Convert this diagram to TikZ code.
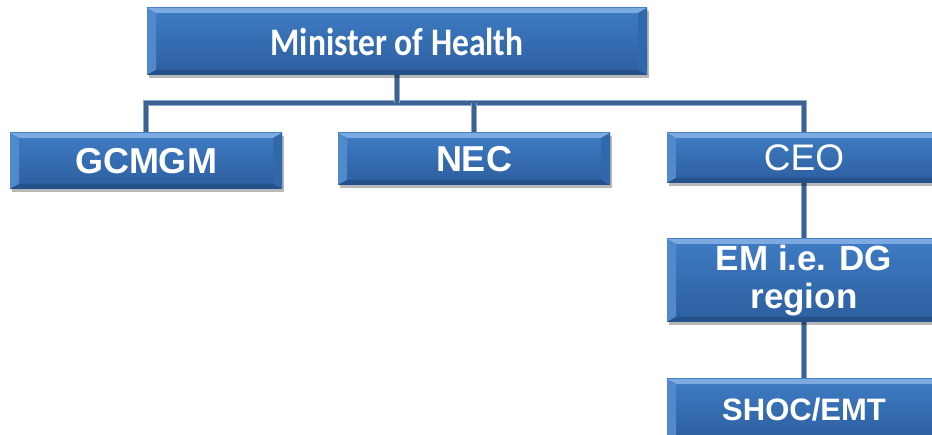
\documentclass[tikz,border=0pt]{standalone}
\usepackage{fontspec}
\setmainfont{Liberation Sans}
\newfontfamily\calibrifont[FakeStretch=0.86]{Carlito}
\usetikzlibrary{shadows,backgrounds}

\definecolor{boxtop}{HTML}{3F7CC5}
\definecolor{boxbot}{HTML}{2C5E9E}
\definecolor{bevhi}{HTML}{7DAAE0}
\definecolor{bevleft}{HTML}{5089CC}
\definecolor{bevright}{HTML}{3167AB}
\definecolor{bevlow}{HTML}{25518B}
\definecolor{linedark}{HTML}{3D6190}
\definecolor{lineedge}{HTML}{8BAAD2}

\tikzset{
  orgbox/.style={
    inner sep=0pt, outer sep=0pt, text=white, align=center,
    top color=boxtop, bottom color=boxbot,
    drop shadow={shadow xshift=2pt, shadow yshift=-3pt, opacity=0.28, fill=black},
    path picture={
      \fill[bevhi] (path picture bounding box.north west) -- (path picture bounding box.north east)
        -- ([xshift=-9pt,yshift=-5pt]path picture bounding box.north east)
        -- ([xshift=9pt,yshift=-5pt]path picture bounding box.north west) -- cycle;
      \fill[bevleft] (path picture bounding box.north west)
        -- ([xshift=9pt,yshift=-5pt]path picture bounding box.north west)
        -- ([xshift=9pt,yshift=5pt]path picture bounding box.south west)
        -- (path picture bounding box.south west) -- cycle;
      \fill[bevright] (path picture bounding box.north east)
        -- ([xshift=-9pt,yshift=-5pt]path picture bounding box.north east)
        -- ([xshift=-9pt,yshift=5pt]path picture bounding box.south east)
        -- (path picture bounding box.south east) -- cycle;
      \fill[bevlow] (path picture bounding box.south west) -- (path picture bounding box.south east)
        -- ([xshift=-9pt,yshift=5pt]path picture bounding box.south east)
        -- ([xshift=9pt,yshift=5pt]path picture bounding box.south west) -- cycle;
    }
  },
  conn/.style={draw=lineedge, line width=6pt,
    postaction={draw=linedark, line width=3.4pt}}
}

\begin{document}
\begin{tikzpicture}[x=1pt,y=-1pt]
  \useasboundingbox (0,0) rectangle (932,435);
  \clip (0,0) rectangle (932,435);

  % boxes
  \node[orgbox, minimum width=500pt, minimum height=67pt,
        font=\calibrifont\bfseries\fontsize{39}{44}\selectfont] (minister) at (397,41.5)
    {Minister of Health};
  \node[orgbox, minimum width=272pt, minimum height=56pt,
        font=\bfseries\fontsize{36}{40}\selectfont] (gcmgm) at (146,161) {GCMGM};
  \node[orgbox, minimum width=272pt, minimum height=52pt,
        font=\bfseries\fontsize{36}{40}\selectfont] (nec) at (474,159) {NEC};
  \node[orgbox, minimum width=274pt, minimum height=50pt,
        font=\fontsize{37}{40}\selectfont] (ceo) at (804,158) {CEO};
  \node[orgbox, minimum width=274pt, minimum height=83pt,
        font=\bfseries\fontsize{35}{38}\selectfont] (em) at (804,280.5) {EM i.e. DG\\ region};
  \node[orgbox, minimum width=274pt, minimum height=62pt,
        font=\bfseries\fontsize{31}{36}\selectfont] (shoc) at (804,410) {SHOC/EMT};

  % connectors
  \coordinate (bus) at (0,103);
  \begin{scope}[on background layer]
    \draw[conn] (gcmgm.north) -- (gcmgm.north |- bus) -- (ceo.north |- bus) -- (ceo.north);
    \draw[conn] (minister.south) -- (minister.south |- bus);
    \draw[conn] (nec.north) -- (nec.north |- bus);
    \draw[conn] (ceo.south) -- (em.north);
    \draw[conn] (em.south) -- (shoc.north);
  \end{scope}
\end{tikzpicture}
\end{document}
